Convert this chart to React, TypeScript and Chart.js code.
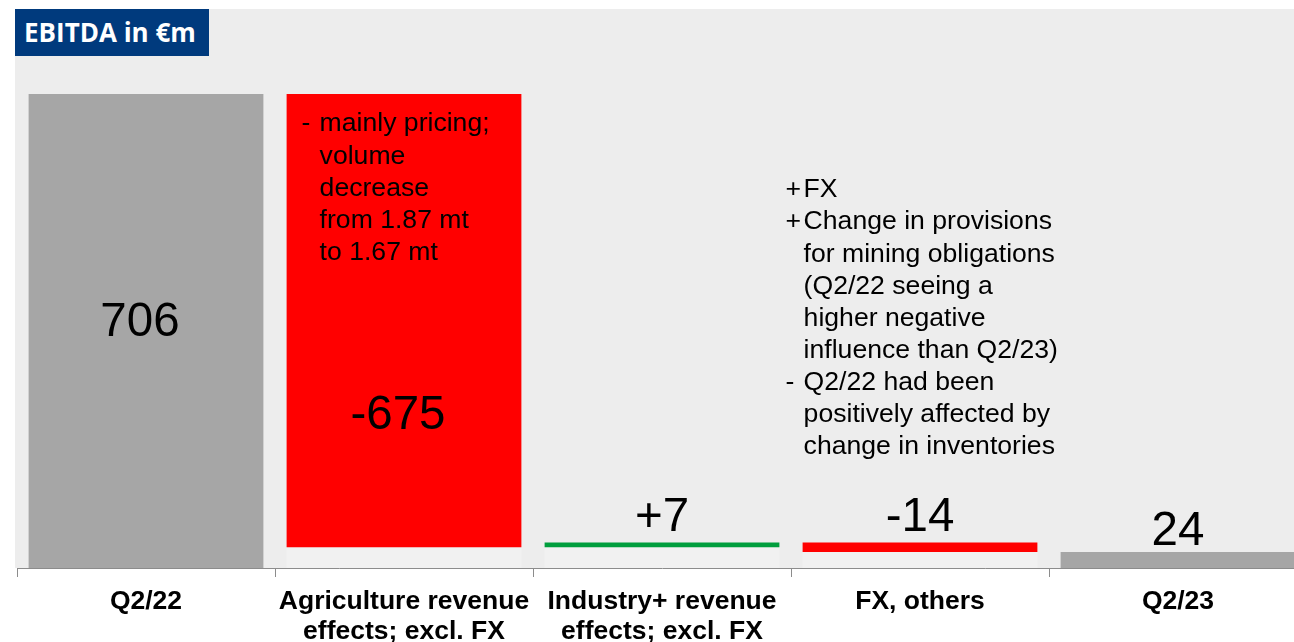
import React, { useEffect, useRef } from "react";
import { Chart, registerables } from "chart.js";

Chart.register(...registerables);

const categories: (string | string[])[] = [
  "Q2/22",
  ["Agriculture revenue", "effects; excl. FX"],
  ["Industry+ revenue", "effects; excl. FX"],
  "FX, others",
  "Q2/23",
];
const startValues = [0, 31, 31, 24, 0];
const endValues = [706, 706, 38, 38, 24];
const baseValues: (number | null)[] = [null, 31, 31, 24, null];
const valueLabels = ["706", "-675", "+7", "-14", "24"];
const barColors = ["#A6A6A6", "#FF0000", "#009E3D", "#FF0000", "#A6A6A6"];

const agriNote: [string, string][] = [
  ["-", "mainly pricing;"],
  ["", "volume"],
  ["", "decrease"],
  ["", "from 1.87 mt"],
  ["", "to 1.67 mt"],
];
const fxNote: [string, string][] = [
  ["+", "FX"],
  ["+", "Change in provisions"],
  ["", "for mining obligations"],
  ["", "(Q2/22 seeing a"],
  ["", "higher negative"],
  ["", "influence than Q2/23)"],
  ["-", "Q2/22 had been"],
  ["", "positively affected by"],
  ["", "change in inventories"],
];

// label placement: mode + pixel offsets
const labelMode = ["mid", "mid", "top", "top", "top"];
const labelDy = [-8, 95, -25, -25, -20];
const labelDx = [-6, -6, 0, 0, 0];

const FONT = "'Liberation Sans', Arial, sans-serif";

const labelPlugin = {
  id: "wfLabels",
  afterDatasetsDraw(chart: any) {
    const ctx = chart.ctx;
    const meta = chart.getDatasetMeta(1);
    ctx.save();
    ctx.fillStyle = "#000";
    ctx.textAlign = "center";
    ctx.textBaseline = "middle";
    ctx.font = `47.5px ${FONT}`;
    meta.data.forEach((bar: any, i: number) => {
      const top = Math.min(bar.y, bar.base);
      const bottom = Math.max(bar.y, bar.base);
      const y = labelMode[i] === "mid" ? (top + bottom) / 2 + labelDy[i] : top + labelDy[i];
      ctx.fillText(valueLabels[i], bar.x + labelDx[i], y);
    });

    ctx.font = `26.6px ${FONT}`;
    ctx.textAlign = "left";
    const drawNote = (lines: [string, string][], bx: number, tx: number, y0: number) => {
      lines.forEach(([b, t], k) => {
        const y = y0 + k * 32.1;
        if (b) ctx.fillText(b, bx, y);
        ctx.fillText(t, tx, y);
      });
    };
    const agri = meta.data[1];
    const agriLeft = agri.x - agri.width / 2;
    drawNote(agriNote, agriLeft + 15, agriLeft + 33, Math.min(agri.y, agri.base) + 30);
    const fx = meta.data[3];
    const fxLeft = fx.x - fx.width / 2;
    drawNote(fxNote, fxLeft - 17, fxLeft + 1, 190);
    ctx.restore();
  },
};

export default function App() {
  const ref = useRef<HTMLCanvasElement | null>(null);
  useEffect(() => {
    if (!ref.current) return;
    const chart = new Chart(ref.current, {
      type: "bar",
      data: {
        labels: categories as any,
        datasets: [
          {
            label: "base",
            data: baseValues.map((v) => (v === null ? null : [0, v])) as any,
            backgroundColor: "#F1F1F1",
            grouped: false,
            order: 2,
            categoryPercentage: 1,
            barPercentage: 0.91,
          },
          {
            label: "EBITDA",
            data: startValues.map((s, i) => [s, endValues[i]]) as any,
            backgroundColor: barColors,
            grouped: false,
            order: 1,
            categoryPercentage: 1,
            barPercentage: 0.91,
          },
        ],
      },
      options: {
        animation: false,
        responsive: false,
        maintainAspectRatio: false,
        layout: { padding: { left: 17, right: 3, top: 31, bottom: 0 } },
        plugins: { legend: { display: false }, tooltip: { enabled: false } },
        scales: {
          y: { display: false, min: 0, max: 800 },
          x: {
            offset: true,
            border: { display: true, color: "#8C8C8C", width: 1 },
            grid: {
              offset: true,
              drawOnChartArea: false,
              drawTicks: true,
              tickLength: 9,
              color: "#8C8C8C",
            },
            ticks: {
              autoSkip: false,
              maxRotation: 0,
              minRotation: 0,
              padding: 10,
              color: "#000",
              font: { family: FONT, size: 26.5, weight: "bold", lineHeight: 1.13 },
            },
            afterFit(scale: any) {
              scale.height = 74;
            },
          },
        },
      },
      plugins: [labelPlugin],
    });
    return () => chart.destroy();
  }, []);

  return (
    <div style={{ position: "fixed", left: 0, top: 0, width: 1294, height: 642, overflow: "hidden", background: "#fff" }}>
      <div style={{ position: "absolute", left: 15, top: 9, width: 1279, height: 559, background: "#EDEDED" }} />
      <canvas ref={ref} width={1310} height={642} style={{ position: "absolute", left: 0, top: 0, width: 1310, height: 642 }} />
      <div
        style={{
          position: "absolute",
          left: 15,
          top: 9,
          width: 194,
          height: 47,
          background: "#003A7D",
          color: "#fff",
          fontFamily: "'Open Sans', sans-serif",
          fontWeight: 700,
          fontSize: 26,
          lineHeight: "47px",
          paddingLeft: 9,
          boxSizing: "border-box",
          whiteSpace: "nowrap",
          overflow: "hidden",
        }}
      >
        EBITDA in €m
      </div>
    </div>
  );
}
